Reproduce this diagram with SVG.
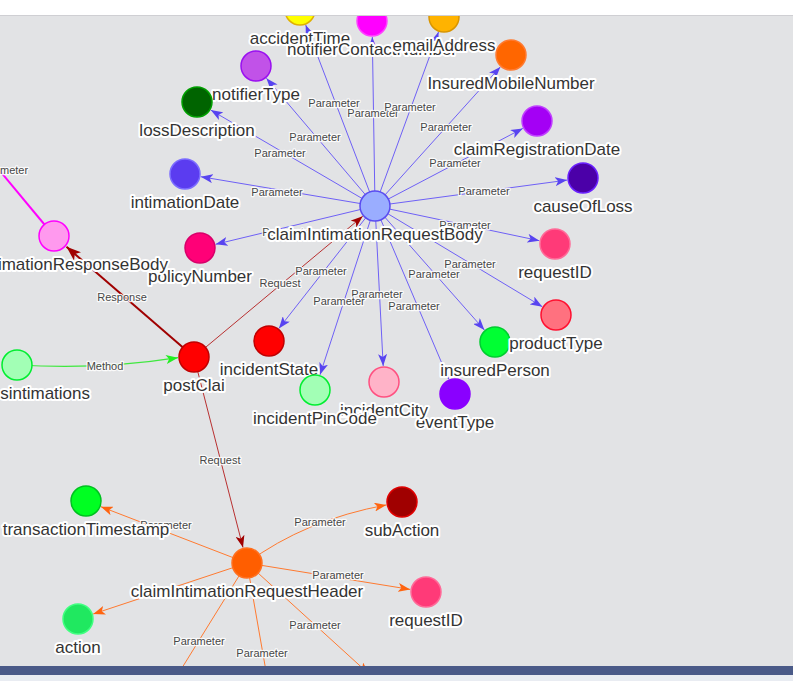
<svg xmlns="http://www.w3.org/2000/svg" width="793" height="681" viewBox="0 0 793 681">
<defs>
<style>
.nl{font-family:"Liberation Sans",Arial,sans-serif;font-size:17px;fill:#343434;stroke:#fff;stroke-width:4px;stroke-linejoin:round;paint-order:stroke;text-anchor:middle}
.el{font-family:"Liberation Sans",Arial,sans-serif;font-size:11px;fill:#474747;stroke:#fff;stroke-opacity:0.85;stroke-width:2.5px;stroke-linejoin:round;paint-order:stroke;text-anchor:middle}
.eb{stroke:#6e60f6;stroke-width:1;fill:none;marker-end:url(#ab)}
.eo{stroke:#ff7a30;stroke-width:1;fill:none;marker-end:url(#ao)}
.er{stroke:#b83030;stroke-width:1;fill:none;marker-end:url(#ar)}
circle{stroke-width:1.5}
</style>
<marker id="ab" viewBox="0 0 12 9" refX="12" refY="4.5" markerWidth="12" markerHeight="9" markerUnits="userSpaceOnUse" orient="auto"><path d="M0,0 L12,4.5 L0,9 L3,4.5 z" fill="#5844f0"/></marker>
<marker id="ao" viewBox="0 0 12 9" refX="12" refY="4.5" markerWidth="12" markerHeight="9" markerUnits="userSpaceOnUse" orient="auto"><path d="M0,0 L12,4.5 L0,9 L3,4.5 z" fill="#ff6410"/></marker>
<marker id="ar" viewBox="0 0 12 9" refX="12" refY="4.5" markerWidth="12" markerHeight="9" markerUnits="userSpaceOnUse" orient="auto"><path d="M0,0 L12,4.5 L0,9 L3,4.5 z" fill="#a00000"/></marker>
<marker id="ag" viewBox="0 0 12 9" refX="12" refY="4.5" markerWidth="12" markerHeight="9" markerUnits="userSpaceOnUse" orient="auto"><path d="M0,0 L12,4.5 L0,9 L3,4.5 z" fill="#22ee22"/></marker>
<marker id="arb" viewBox="0 0 12 9" refX="12" refY="4.5" markerWidth="15" markerHeight="11" markerUnits="userSpaceOnUse" orient="auto"><path d="M0,0 L12,4.5 L0,9 L3,4.5 z" fill="#a00000"/></marker>
<clipPath id="vp"><rect x="0" y="16" width="793" height="650"/></clipPath>
</defs>
<rect x="0" y="0" width="793" height="681" fill="#ffffff"/>
<rect x="0" y="16" width="793" height="650" fill="#e2e3e5"/>
<line x1="0" y1="15.5" x2="793" y2="15.5" stroke="#cfcfd3" stroke-width="1"/>
<g clip-path="url(#vp)">
<g id="connectors">
<line class="eb" x1="375" y1="206" x2="305.7" y2="24.9"/>
<line class="eb" x1="375" y1="206" x2="372.3" y2="37"/>
<line class="eb" x1="375" y1="206" x2="438.5" y2="32"/>
<line class="eb" x1="375" y1="206" x2="500.3" y2="66.9"/>
<line class="eb" x1="375" y1="206" x2="266.4" y2="78.2"/>
<line class="eb" x1="375" y1="206" x2="210.8" y2="110.1"/>
<line class="eb" x1="375" y1="206" x2="200.8" y2="176.7"/>
<line class="eb" x1="375" y1="206" x2="215.6" y2="244.3"/>
<line class="eb" x1="375" y1="206" x2="522.8" y2="128.4"/>
<line class="eb" x1="375" y1="206" x2="567.1" y2="180.1"/>
<line class="eb" x1="375" y1="206" x2="539.4" y2="240.7"/>
<line class="eb" x1="375" y1="206" x2="542.3" y2="306.7"/>
<line class="eb" x1="375" y1="206" x2="484.4" y2="330"/>
<line class="eb" x1="375" y1="206" x2="448.7" y2="379.3"/>
<line class="eb" x1="375" y1="206" x2="383.2" y2="366"/>
<line class="eb" x1="375" y1="206" x2="320" y2="374.8"/>
<line class="eb" x1="375" y1="206" x2="278.9" y2="328.4"/>
<line x1="-20" y1="147" x2="54" y2="236" stroke="#ff00ff" stroke-width="2"/>
<line x1="194" y1="357" x2="66.5" y2="246.8" stroke="#a00000" stroke-width="2" marker-end="url(#arb)"/>
<line class="er" x1="194" y1="357" x2="362.7" y2="216.3"/>
<path d="M17,365 Q100,370 178,357.7" stroke="#3ee83e" stroke-width="1.2" fill="none" marker-end="url(#ag)"/>
<line class="er" x1="194" y1="357" x2="243" y2="547.5"/>
<line class="eo" x1="247" y1="563" x2="100.9" y2="506.7"/>
<path class="eo" d="M247,563 Q305,520 386.3,504.9"/>
<line class="eo" x1="247" y1="563" x2="410.2" y2="589.4"/>
<line class="eo" x1="247" y1="563" x2="93.2" y2="614"/>
<line class="eo" x1="247" y1="563" x2="159" y2="705"/>
<line class="eo" x1="247" y1="563" x2="276" y2="728"/>
<line class="eo" x1="247" y1="563" x2="369" y2="674"/>
<text class="el" x="334" y="107">Parameter</text>
<text class="el" x="373" y="117">Parameter</text>
<text class="el" x="410" y="111">Parameter</text>
<text class="el" x="446" y="131">Parameter</text>
<text class="el" x="315" y="141">Parameter</text>
<text class="el" x="280" y="157">Parameter</text>
<text class="el" x="277" y="196">Parameter</text>
<text class="el" x="288" y="236">Parameter</text>
<text class="el" x="455" y="167">Parameter</text>
<text class="el" x="484" y="195">Parameter</text>
<text class="el" x="465" y="229">Parameter</text>
<text class="el" x="470" y="268">Parameter</text>
<text class="el" x="434" y="278">Parameter</text>
<text class="el" x="414" y="310">Parameter</text>
<text class="el" x="377" y="298">Parameter</text>
<text class="el" x="339" y="305">Parameter</text>
<text class="el" x="321" y="275">Parameter</text>
<text class="el" x="0" y="174" style="text-anchor:start">meter</text>
<text class="el" x="122" y="301">Response</text>
<text class="el" x="280" y="287">Request</text>
<text class="el" x="105" y="370">Method</text>
<text class="el" x="220" y="464">Request</text>
<text class="el" x="166" y="529">Parameter</text>
<text class="el" x="320" y="526">Parameter</text>
<text class="el" x="338" y="579">Parameter</text>
<text class="el" x="199" y="645">Parameter</text>
<text class="el" x="262" y="657">Parameter</text>
<text class="el" x="315" y="629">Parameter</text>
</g>
<g id="accidentTime"><circle cx="300" cy="10" r="15" fill="#ffff00" stroke="#e0b000"/><text class="nl" x="300" y="44">accidentTime</text></g>
<g id="notifierContactNumber"><circle cx="372" cy="21" r="15" fill="#ff00ff" stroke="#ff40ff"/><text class="nl" x="372" y="55">notifierContactNumber</text></g>
<g id="emailAddress"><circle cx="444" cy="17" r="15" fill="#ffb300" stroke="#d89500"/><text class="nl" x="444" y="51">emailAddress</text></g>
<g id="InsuredMobileNumber"><circle cx="511" cy="55" r="15" fill="#ff6600" stroke="#ff7a30"/><text class="nl" x="511" y="89">InsuredMobileNumber</text></g>
<g id="notifierType"><circle cx="256" cy="66" r="15" fill="#c152e8" stroke="#9a10f0"/><text class="nl" x="256" y="100">notifierType</text></g>
<g id="lossDescription"><circle cx="197" cy="102" r="15" fill="#006400" stroke="#00a000"/><text class="nl" x="197" y="136">lossDescription</text></g>
<g id="claimRegistrationDate"><circle cx="537" cy="121" r="15" fill="#a400f5" stroke="#c040ff"/><text class="nl" x="537" y="155">claimRegistrationDate</text></g>
<g id="intimationDate"><circle cx="185" cy="174" r="15" fill="#5b3cf0" stroke="#7b6cff"/><text class="nl" x="185" y="208">intimationDate</text></g>
<g id="causeOfLoss"><circle cx="583" cy="178" r="15" fill="#4b00a8" stroke="#6a20ff"/><text class="nl" x="583" y="212">causeOfLoss</text></g>
<g id="requestID-body"><circle cx="555" cy="244" r="15" fill="#ff3a78" stroke="#ff6a98"/><text class="nl" x="555" y="278">requestID</text></g>
<g id="policyNumber"><circle cx="200" cy="248" r="15" fill="#ff0077" stroke="#d8006a"/><text class="nl" x="200" y="282">policyNumber</text></g>
<g id="claimIntimationResponseBody"><circle cx="54" cy="236" r="15" fill="#ff99ee" stroke="#ff00ff" stroke-width="2.5"/><text class="nl" x="168" y="270" style="text-anchor:end">imationResponseBody</text></g>
<g id="claimIntimationRequestBody"><circle cx="375" cy="206" r="15" fill="#9aadff" stroke="#5a4cf0"/><text class="nl" x="375" y="240">claimIntimationRequestBody</text></g>
<g id="insuredPerson"><circle cx="495" cy="342" r="15" fill="#00ff33" stroke="#00cc30"/><text class="nl" x="495" y="376">insuredPerson</text></g>
<g id="productType"><circle cx="556" cy="315" r="15" fill="#ff717f" stroke="#ff1030"/><text class="nl" x="556" y="349">productType</text></g>
<g id="incidentState"><circle cx="269" cy="341" r="15" fill="#ff0000" stroke="#c00000"/><text class="nl" x="269" y="375">incidentState</text></g>
<g id="eventType"><circle cx="455" cy="394" r="15" fill="#8a00ff" stroke="#8a00ff"/><text class="nl" x="455" y="428">eventType</text></g>
<g id="incidentCity"><circle cx="384" cy="382" r="15" fill="#ffb3c8" stroke="#ff5080"/><text class="nl" x="384" y="416">incidentCity</text></g>
<g id="incidentPinCode"><circle cx="315" cy="390" r="15" fill="#a2ffb5" stroke="#00ee30"/><text class="nl" x="315" y="424">incidentPinCode</text></g>
<g id="postClai"><circle cx="194" cy="357" r="15" fill="#ff0000" stroke="#c00000"/><text class="nl" x="194" y="391">postClai</text></g>
<g id="sintimations"><circle cx="17" cy="365" r="15" fill="#a2ffb5" stroke="#00ee30"/><text class="nl" x="90" y="399" style="text-anchor:end">sintimations</text></g>
<g id="transactionTimestamp"><circle cx="86" cy="501" r="15" fill="#00ff22" stroke="#00c020"/><text class="nl" x="86" y="535">transactionTimestamp</text></g>
<g id="subAction"><circle cx="402" cy="502" r="15" fill="#a00000" stroke="#e00000"/><text class="nl" x="402" y="536">subAction</text></g>
<g id="claimIntimationRequestHeader"><circle cx="247" cy="563" r="15" fill="#ff5e00" stroke="#ff7020"/><text class="nl" x="247" y="597">claimIntimationRequestHeader</text></g>
<g id="requestID-header"><circle cx="426" cy="592" r="15" fill="#ff3a78" stroke="#ff6a98"/><text class="nl" x="426" y="626">requestID</text></g>
<g id="action"><circle cx="78" cy="619" r="15" fill="#20e860" stroke="#40ff80"/><text class="nl" x="78" y="653">action</text></g>
</g>
<rect x="0" y="666" width="793" height="9" fill="#4a5a88"/>
<rect x="0" y="675" width="793" height="6" fill="#e9ecf2"/>
</svg>
